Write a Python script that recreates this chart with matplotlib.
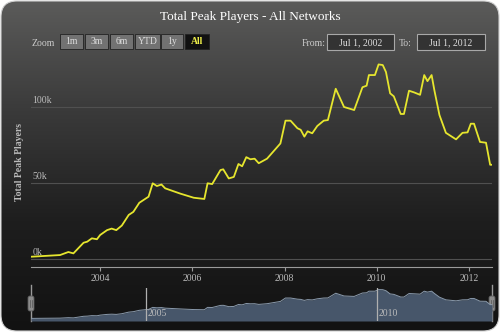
import matplotlib
matplotlib.use("Agg")
import matplotlib.pyplot as plt
import numpy as np
from matplotlib.patches import FancyBboxPatch, Rectangle
from matplotlib.colors import LinearSegmentedColormap
import matplotlib.transforms as mtransforms

# decimal year / peak players
dates = [2002.50, 2003.13, 2003.31, 2003.42, 2003.64, 2003.72, 2003.82, 2003.93,
         2004.00, 2004.15, 2004.25, 2004.35, 2004.47, 2004.62, 2004.72, 2004.85,
         2005.05, 2005.14, 2005.23, 2005.33, 2005.41, 2005.74, 2006.03, 2006.26,
         2006.33, 2006.43, 2006.61, 2006.67, 2006.79, 2006.90, 2007.00, 2007.08,
         2007.17, 2007.26, 2007.35, 2007.44, 2007.62, 2007.91, 2008.02, 2008.13,
         2008.28, 2008.35, 2008.43, 2008.50, 2008.60, 2008.71, 2008.85, 2008.94,
         2009.11, 2009.29, 2009.51, 2009.69, 2009.78, 2009.83, 2009.96, 2010.04,
         2010.13, 2010.20, 2010.29, 2010.37, 2010.52, 2010.59, 2010.70, 2010.81,
         2010.94, 2011.03, 2011.10, 2011.19, 2011.25, 2011.36, 2011.50, 2011.72,
         2011.86, 2011.97, 2012.04, 2012.11, 2012.24, 2012.37, 2012.46, 2012.50]
players = [1500, 2600, 4600, 3700, 10700, 11400, 13600, 13000,
           15800, 19000, 20000, 19000, 22000, 29000, 31000, 37000,
           41000, 49800, 48000, 49000, 46500, 43000, 40300, 39500,
           49800, 49300, 58500, 59000, 53000, 54000, 62500, 61000,
           67000, 65600, 66000, 63000, 66000, 76000, 91000, 91000,
           86000, 85000, 80500, 84000, 82700, 87500, 91000, 91400,
           112000, 100000, 98000, 113000, 114000, 121000, 121000, 128000,
           127600, 123000, 109000, 107000, 95400, 95400, 110700, 109600,
           108000, 121000, 117000, 121000, 111000, 94700, 83000, 78700,
           83000, 83300, 89000, 89000, 77000, 76500, 62000, 62000]

year_ticks = [2004, 2006, 2008, 2010, 2012]
value_ticks = [0, 50000, 100000]
value_labels = ["0k", "50k", "100k"]
nav_ticks = [2005, 2010]

W, H = 500, 334
fig = plt.figure(figsize=(W / 100, H / 100), dpi=100)
fig.patch.set_facecolor("white")

# background panel in pixel coords
bg = fig.add_axes([0, 0, 1, 1])
bg.set_xlim(0, W)
bg.set_ylim(H, 0)
bg.axis("off")
grad = np.linspace(0, 1, 256)[:, None]
cmap = LinearSegmentedColormap.from_list("bg", ["#5b5b5a", "#3a3a3a", "#1e1e1e", "#121212"])
im = bg.imshow(grad, extent=(1, 499, 331, 1), cmap=cmap, aspect="auto", zorder=0)
panel = FancyBboxPatch((1, 1), 498, 330, boxstyle="round,pad=0,rounding_size=16",
                       transform=bg.transData, facecolor="none", edgecolor="#cfcfcf", lw=0.8)
bg.add_patch(panel)
im.set_clip_path(panel)

serif = "Liberation Serif"
bg.text(250, 17, "Total Peak Players - All Networks", color="white", fontsize=9.5,
        family=serif, ha="center", va="center")

# range selector
bg.text(43, 43, "Zoom", color="#cccccc", fontsize=7, family=serif, ha="center", va="center")
buttons = [("1m", 60, 83), ("3m", 85, 108), ("6m", 110, 133), ("YTD", 135, 160),
           ("1y", 161, 183), ("All", 185, 209)]
for lbl, x0, x1 in buttons:
    sel = lbl == "All"
    bg.add_patch(Rectangle((x0, 34), x1 - x0, 15, facecolor="#111111" if sel else "#727272",
                           edgecolor="#222222", lw=0.6))
    bg.text((x0 + x1) / 2, 42, lbl, color="#f2f24a" if sel else "#dddddd", fontsize=7,
            family=serif, ha="center", va="center", weight="bold" if sel else "normal")

bg.text(314, 43, "From:", color="#cccccc", fontsize=7, family=serif, ha="center", va="center")
bg.text(405, 43, "To:", color="#cccccc", fontsize=7, family=serif, ha="center", va="center")
for x0, x1, lbl in [(327, 394, "Jul 1, 2002"), (417, 485, "Jul 1, 2012")]:
    bg.add_patch(Rectangle((x0, 34), x1 - x0, 16, facecolor="#333333", edgecolor="#a8a8a8", lw=0.8))
    bg.text((x0 + x1) / 2, 42.5, lbl, color="#dddddd", fontsize=7, family=serif,
            ha="center", va="center")

bg.text(20, 162, "Total Peak Players", color="#bbbbbb", fontsize=7, family=serif,
        ha="center", va="center", rotation=90, weight="bold")

# main plot
x0p, x1p = 31, 492
top, bot = 55, 267
ax = fig.add_axes([x0p / W, 1 - bot / H, (x1p - x0p) / W, (bot - top) / H])
ax.patch.set_alpha(0)
ax.set_xlim(2002.5, 2012.5)
ax.set_ylim(-5260, 134200)
for v in value_ticks:
    ax.axhline(v, color="#505050", lw=0.8, zorder=1)
for v, lbl in zip(value_ticks, value_labels):
    ax.text(0.003, v + 1200, lbl, transform=mtransforms.blended_transform_factory(ax.transAxes, ax.transData),
            color="#bbbbbb", fontsize=7, family=serif, ha="left", va="bottom")
ax.plot(dates, players, color="#e6e62e", lw=1.3, solid_joinstyle="round", zorder=3)
for s in ["top", "left", "right"]:
    ax.spines[s].set_visible(False)
ax.spines["bottom"].set_color("#9a9a9a")
ax.set_yticks([])
ax.set_xticks(year_ticks)
ax.set_xticklabels([str(y) for y in year_ticks], family=serif, fontsize=7, color="#bbbbbb")
ax.tick_params(axis="x", colors="#9a9a9a", length=3, labelcolor="#bbbbbb", pad=2)

# navigator
ntop, nbot = 288, 321
nav = fig.add_axes([x0p / W, 1 - nbot / H, (x1p - x0p) / W, (nbot - ntop) / H])
nav.patch.set_alpha(0)
nav.set_xlim(2002.5, 2012.5)
nav.set_ylim(-10000, 135000)
nav.fill_between(dates, -10000, players, color="#47566a", lw=0)
nav.plot(dates, players, color="#8a9aac", lw=0.7)
for y in nav_ticks:
    nav.axvline(y, color="#b0b0b0", lw=0.9)
    nav.text(y + 0.03, 0.22, str(y), transform=mtransforms.blended_transform_factory(nav.transData, nav.transAxes),
             color="#bbbbbb", fontsize=7, family=serif, ha="left", va="center")
nav.axis("off")

for hx in [x0p, x1p]:
    bg.plot([hx, hx], [ntop - 3, nbot], color="#9a9a9a", lw=1)
    bg.add_patch(FancyBboxPatch((hx - 3, 296), 6, 15, boxstyle="round,pad=0,rounding_size=2",
                                facecolor="#8c8c8c", edgecolor="#5a5a5a", lw=0.6, zorder=5))
    bg.plot([hx - 1, hx - 1], [300, 307], color="#555555", lw=0.5, zorder=6)
    bg.plot([hx + 1, hx + 1], [300, 307], color="#555555", lw=0.5, zorder=6)

fig.savefig("out.png", dpi=100)
